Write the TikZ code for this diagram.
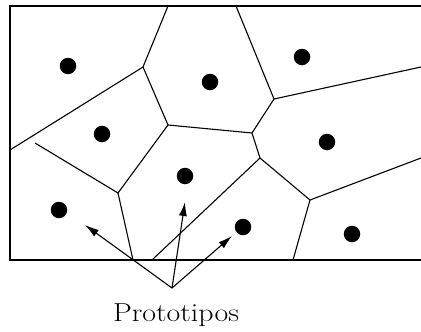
\documentclass[tikz,border=0pt]{standalone}
\usetikzlibrary{arrows.meta}
\begin{document}
\begin{tikzpicture}[x=1pt,y=-1pt,
  edge/.style={line width=1.1pt,black},
  frame/.style={line width=1.3pt,black},
  proto/.style={circle,fill=black,inner sep=0pt,minimum size=16.5pt},
  pointer/.style={line width=1.1pt,-{Latex[length=14pt,width=8pt]}},
  label/.style={font=\fontsize{26}{30}\selectfont,anchor=base,inner sep=0pt}]
\useasboundingbox (0,0) rectangle (421,332);
% frame
\draw[frame] (421,6) -- (10,6) -- (10,260) -- (421,260);
% vertices
\coordinate (T1) at (168,6);
\coordinate (T2) at (236,6);
\coordinate (A) at (143,67);
\coordinate (B) at (168,125);
\coordinate (C) at (252,133);
\coordinate (D) at (274,99);
\coordinate (E) at (260,158);
\coordinate (F) at (310,200);
\coordinate (G) at (118,193);
\coordinate (L1) at (10,150);
\coordinate (R1) at (421,67);
\coordinate (R2) at (421,158);
\coordinate (Fr) at (35,143);
\coordinate (B1) at (133,260);
\coordinate (B2) at (152,260);
\coordinate (B3) at (293,260);
% edges
\draw[edge] (T1) -- (A) -- (L1);
\draw[edge] (A) -- (B) -- (C);
\draw[edge] (T2) -- (D) -- (R1);
\draw[edge] (D) -- (C) -- (E) -- (F) -- (R2);
\draw[edge] (F) -- (B3);
\draw[edge] (E) -- (B2);
\draw[edge] (B) -- (G) -- (Fr);
\draw[edge] (G) -- (B1);
% prototypes
\node[proto] (p1) at (68,66) {};
\node[proto] (p2) at (210,82) {};
\node[proto] (p3) at (302,57) {};
\node[proto] (p4) at (102,134) {};
\node[proto] (p5) at (327,142) {};
\node[proto] (p6) at (185,176) {};
\node[proto] (p7) at (59,210) {};
\node[proto] (p8) at (243,227) {};
\node[proto] (p9) at (352,234) {};
% arrows
\coordinate (apex) at (172,288);
\coordinate (t1) at (85,225);
\coordinate (t2) at (185,202);
\coordinate (t3) at (232,236);
\draw[pointer] (apex) -- (t1);
\draw[pointer] (apex) -- (t2);
\draw[pointer] (apex) -- (t3);
\node[label] (lab) at (176,321) {\scalebox{1.15}[1]{Prototipos}};
\end{tikzpicture}
\end{document}
